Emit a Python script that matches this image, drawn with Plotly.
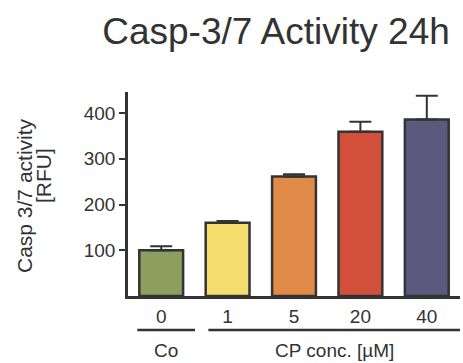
import plotly.graph_objects as go

# ---- data ----
categories = ["0", "1", "5", "20", "40"]
values = [100, 160, 261, 359, 386]
errors = [9, 4, 5, 22, 52]
bar_colors = ["#8c9f5e", "#f4dd6c", "#e08b47", "#d2503a", "#5b5a7e"]
y_ticks = [100, 200, 300, 400]
group_labels = ["Co", "CP conc. [µM]"]
group_first = [0, 1]
group_last = [0, 4]

title_text = "Casp-3/7 Activity 24h"
ytitle_line1 = "Casp 3/7 activity"
ytitle_line2 = "[RFU]"

dark = "#333333"
font_family = "Liberation Sans, Arial, sans-serif"

x_idx = list(range(len(categories)))

fig = go.Figure()
fig.add_trace(go.Bar(
    x=x_idx,
    y=values,
    width=0.66,
    marker=dict(color=bar_colors, line=dict(color=dark, width=2.5)),
    error_y=dict(type="data", array=errors, arrayminus=[0] * len(errors),
                 symmetric=False, color=dark, thickness=2, width=11),
    showlegend=False,
))

fig.update_layout(
    width=463, height=363,
    margin=dict(l=128, r=3, t=92, b=67),
    paper_bgcolor="white", plot_bgcolor="white",
    font=dict(family=font_family, color=dark),
    title=dict(text=title_text, x=276 / 463, xanchor="center",
               y=1 - 31 / 363, yanchor="middle", yref="container",
               font=dict(size=37, color=dark, family=font_family)),
)

fig.update_xaxes(
    range=[-0.5, 4.5], tickmode="array", tickvals=x_idx, ticktext=categories,
    showline=True, linecolor=dark, linewidth=2.5, showgrid=False,
    zeroline=False, ticks="outside", ticklen=1, tickcolor="rgba(0,0,0,0)",
    tickfont=dict(size=19, color=dark), fixedrange=True,
)
fig.update_yaxes(
    range=[0, 446], tickmode="array", tickvals=y_ticks,
    showline=True, linecolor=dark, linewidth=2.5, showgrid=False,
    zeroline=False, ticks="outside", ticklen=6, tickwidth=2, tickcolor=dark,
    tickfont=dict(size=19, color=dark), fixedrange=True,
)

# y-axis title (two lines, rotated)
fig.add_annotation(text=ytitle_line1, xref="paper", yref="paper",
                   x=-128 / 332 + 24 / 332, y=(296 - 196) / 204,
                   xanchor="center", yanchor="middle", textangle=-90,
                   showarrow=False, font=dict(size=21, color=dark))
fig.add_annotation(text=ytitle_line2, xref="paper", yref="paper",
                   x=-128 / 332 + 43 / 332, y=(296 - 176) / 204,
                   xanchor="center", yanchor="middle", textangle=-90,
                   showarrow=False, font=dict(size=21, color=dark))

# group lines and labels below the x tick labels
for lab, a, b in zip(group_labels, group_first, group_last):
    x0 = a - 0.36 if a == 0 else a - 0.29
    x1 = b + 0.51 if b == 0 else b + 0.5
    fig.add_shape(type="line", xref="x", yref="paper", x0=x0, x1=x1,
                  y0=-34 / 204, y1=-34 / 204, line=dict(color=dark, width=2.5))
    fig.add_annotation(text=lab, xref="x", yref="paper", x=(x0 + x1) / 2,
                       y=-54 / 204, xanchor="center", yanchor="middle",
                       showarrow=False, font=dict(size=19, color=dark))

fig.write_html("out.html", config={"displayModeBar": False},
               post_script="document.body.style.margin='0';")
